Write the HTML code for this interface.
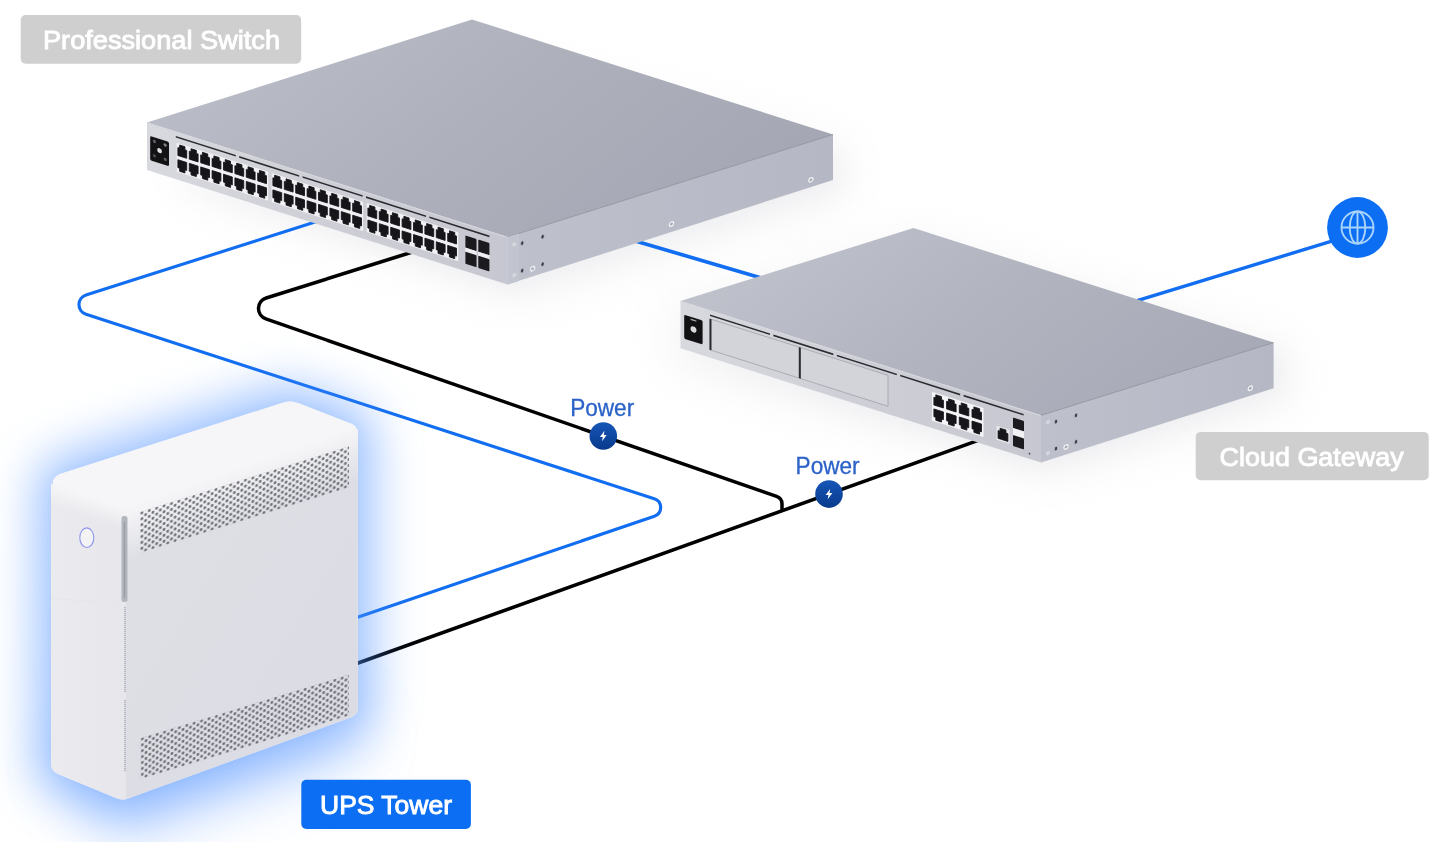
<!DOCTYPE html>
<html lang="en"><head><meta charset="utf-8"><title>UPS Tower topology</title>
<style>
html,body{margin:0;padding:0;background:#fff;}
body{width:1443px;height:842px;overflow:hidden;position:relative;font-family:"Liberation Sans",sans-serif;}
svg{position:absolute;left:0;top:0;display:block}
text{font-family:"Liberation Sans",sans-serif;}
</style></head><body>
<svg width="1443" height="842" viewBox="0 0 1443 842">
<defs>
<filter id="b6" x="-20%" y="-20%" width="140%" height="140%"><feGaussianBlur stdDeviation="6"/></filter>
<filter id="b12" x="-30%" y="-30%" width="160%" height="160%"><feGaussianBlur stdDeviation="12"/></filter>
<filter id="b20" x="-60%" y="-60%" width="220%" height="220%"><feGaussianBlur stdDeviation="24"/></filter>
<filter id="b30" x="-60%" y="-100%" width="220%" height="300%"><feGaussianBlur stdDeviation="30"/></filter>
<filter id="b1" x="-10%" y="-10%" width="120%" height="120%"><feGaussianBlur stdDeviation="0.6"/></filter>
<linearGradient id="swTop" x1="0" y1="0.2" x2="1" y2="0.6"><stop offset="0" stop-color="#bcbfc9"/><stop offset="0.5" stop-color="#aeb1bc"/><stop offset="1" stop-color="#a4a7b3"/></linearGradient>
<linearGradient id="gwTop" x1="0" y1="0.2" x2="1" y2="0.6"><stop offset="0" stop-color="#c1c3cd"/><stop offset="0.5" stop-color="#b2b5c0"/><stop offset="1" stop-color="#a7aab6"/></linearGradient>
<linearGradient id="front" x1="0" y1="0" x2="1" y2="0"><stop offset="0" stop-color="#d8d9de"/><stop offset="0.5" stop-color="#cecfd6"/><stop offset="1" stop-color="#c6c7d0"/></linearGradient>
<linearGradient id="side" x1="0" y1="0" x2="1" y2="0"><stop offset="0" stop-color="#bec1cc"/><stop offset="1" stop-color="#b5b8c4"/></linearGradient>
<linearGradient id="badge" x1="0" y1="0" x2="0" y2="1"><stop offset="0" stop-color="#1756b8"/><stop offset="1" stop-color="#083a8c"/></linearGradient>
<linearGradient id="upsSide" x1="0" y1="0" x2="1" y2="1"><stop offset="0" stop-color="#dfe0e6"/><stop offset="1" stop-color="#dbdce3"/></linearGradient>
<linearGradient id="upsFront" x1="0" y1="0" x2="1" y2="0"><stop offset="0" stop-color="#ebebef"/><stop offset="1" stop-color="#e6e6eb"/></linearGradient>
<pattern id="dots" width="7.4" height="5.9" patternUnits="userSpaceOnUse"><circle cx="1.85" cy="1.5" r="1.45" fill="#707178"/><circle cx="5.55" cy="4.45" r="1.45" fill="#707178"/></pattern>
<linearGradient id="upsRound" x1="0" y1="0" x2="0" y2="1"><stop offset="0" stop-color="#f5f5f7" stop-opacity="1"/><stop offset="1" stop-color="#f5f5f7" stop-opacity="0"/></linearGradient>
</defs>
<rect width="1443" height="842" fill="#ffffff"/>

<g opacity="0.42">
<polygon points="185,150 480,60 846,146 848,196 520,300 185,190" fill="#d4d5da" filter="url(#b20)" opacity="0.6"/>
<polygon points="672,310 914,240 1290,350 1292,400 1046,476 672,362" fill="#d4d5da" filter="url(#b20)" opacity="0.7"/>
<polygon points="160,175 510,290 840,188 840,150 520,250" fill="#c4c5cc" filter="url(#b12)" opacity="0.45"/>
<polygon points="690,352 1040,468 1282,392 1282,350 1050,424" fill="#c4c5cc" filter="url(#b12)" opacity="0.45"/>
</g>
<path d="M620 236.5 L775 282" stroke="#126ef0" stroke-width="3.8" fill="none"/>
<path d="M1120 305.8 L1340 238.7" stroke="#126ef0" stroke-width="3.3" fill="none"/>
<path d="M335.0 215.6 L86.0 294.9 A10.2 10.2 0 0 0 86.0 314.3 L654.2 498.7 A9.2 9.2 0 0 1 654.4 516.2 L340.0 623.2" stroke="#126ef0" stroke-width="3.2" fill="none"/>
<path d="M990.0 436.2 L340.0 669.5" stroke="#000" stroke-width="3.5" fill="none"/>
<path d="M430.0 246.5 L266.2 298.0 A11.0 11.0 0 0 0 265.9 318.9 L776.6 496.4 A8.0 8.0 0 0 1 782.0 504.0 L782.0 511.5" stroke="#000" stroke-width="3.5" fill="none"/>
<path d="M53 486 Q51 478 60 474 L282 403 Q290 400 298 403 L352 424 Q357.8 427 357.8 436 L357.8 708 Q357.8 714 352 717 L128 798.5 Q122 800.5 116 798 L58 774 Q51 771 51 763 Z" fill="#4d90ff" stroke="#4d90ff" stroke-width="30" stroke-linejoin="round" opacity="0.56" filter="url(#b20)"/>
<path d="M53 486 Q51 478 60 474 L282 403 Q290 400 298 403 L352 424 Q357.8 427 357.8 436 L357.8 708 Q357.8 714 352 717 L128 798.5 Q122 800.5 116 798 L58 774 Q51 771 51 763 Z" fill="#8fbaff" opacity="0.12" filter="url(#b6)"/>
<path d="M70 740 L122 800 L352 717 L340 690 Z" transform="translate(0,26)" fill="#4d90ff" stroke="#4d90ff" stroke-width="30" stroke-linejoin="round" opacity="0.28" filter="url(#b30)"/>
<path d="M53 486 Q51 478 60 474 L282 403 Q290 400 298 403 L352 424 Q357.8 427 357.8 436 L357.8 708 Q357.8 714 352 717 L128 798.5 Q122 800.5 116 798 L58 774 Q51 771 51 763 Z" fill="#f1f1f4"/>
<path d="M126 512 L352 432 Q357.8 430 357.8 438 L357.8 708 Q357.8 714 352 717 L128 798.5 L126 798.5 Z" fill="url(#upsSide)"/>
<path d="M51 486 L126 512 L126 799 Q122 800.5 116 798 L58 774 Q51 771 51 763 Z" fill="url(#upsFront)"/>
<path d="M53 484 Q52 478 60 474 L282 403 Q290 400 298 403 L352 424 Q358 427 356 431 L126 512 Z" fill="#f6f6f8"/>
<g transform="matrix(1,-0.352,0,1,126,511)"><rect x="0" y="0" width="232" height="50" fill="url(#upsRound)"/></g>
<g transform="matrix(1,0.347,0,1,51,484)"><rect x="0" y="0" width="75" height="22" fill="url(#upsRound)"/></g>
<path d="M126 512 L356 431" stroke="#f4f4f6" stroke-width="5" fill="none" filter="url(#b1)"/>
<g transform="matrix(1,-0.315,0,1,140,512)"><rect x="0" y="0" width="209" height="41" fill="url(#dots)"/></g>
<g transform="matrix(1,-0.304,0,1,140.5,738)"><rect x="0" y="0" width="208.5" height="41" fill="url(#dots)"/></g>
<rect x="121.5" y="516" width="6" height="86" rx="2.5" fill="#b4b6bd"/>
<rect x="123.7" y="522" width="1.6" height="76" fill="#9c9ea6"/>
<path d="M125 607 V692 M125 700 V772" stroke="#9c9ea6" stroke-width="1.2" stroke-dasharray="1.2 0.8" fill="none"/>
<path d="M51 598 L121 604" stroke="#e6e6ea" stroke-width="1.2" fill="none"/>
<ellipse cx="86.8" cy="537.7" rx="7" ry="9.8" fill="#f3f3f6" stroke="#8e94ea" stroke-width="1.1"/>
<polygon points="147,122.5 507.5,237 833,134.5 472,19.5" fill="url(#swTop)"/>
<polygon points="507.5,237 833,134.5 833,180 507.5,284.5" fill="url(#side)"/>
<polygon points="147,122.5 507.5,237 507.5,284.5 147,170" fill="url(#front)"/>
<path d="M147 123 L507.5 237.5" stroke="#d6d7dd" stroke-width="1" fill="none"/>
<path d="M507.5 237 L833 134.5" stroke="#8f929d" stroke-width="0.9" fill="none"/>
<g transform="matrix(1,0.3176,0,1,147,122.5)">
<rect x="3.2" y="12.4" width="18.8" height="24.4" rx="1.5" fill="#121215"/>
<circle cx="12.6" cy="24.2" r="2.4" fill="#dcdde1"/>
<circle cx="7.4" cy="16.6" r="1.6" fill="#5d5e63"/><circle cx="18.2" cy="16.8" r="1.6" fill="#7f8085"/><circle cx="7.4" cy="31" r="1.6" fill="#4b4c51"/><circle cx="18.2" cy="31.1" r="1.6" fill="#5d5e63"/>
<rect x="28.8" y="4.3" width="60" height="1.6" fill="#2a2b30"/>
<rect x="92.2" y="4.3" width="60" height="1.6" fill="#2a2b30"/>
<rect x="155.6" y="4.3" width="60" height="1.6" fill="#2a2b30"/>
<rect x="219.0" y="4.3" width="60" height="1.6" fill="#2a2b30"/>
<rect x="282.4" y="4.3" width="60" height="1.6" fill="#2a2b30"/>
<rect x="29.7" y="10.8" width="91.5" height="29" fill="#f1f1f4"/>
<path d="M32.66 12.20 h5.28 v3.08 h1.76 v7.92 h-8.80 v-7.92 h1.76 z" fill="#15151a" stroke="#15151a" stroke-width="0.8" stroke-linejoin="round"/>
<path d="M30.90 27.40 h8.80 v7.92 h-1.76 v3.08 h-5.28 v-3.08 h-1.76 z" fill="#15151a" stroke="#15151a" stroke-width="0.8" stroke-linejoin="round"/>
<path d="M44.06 12.20 h5.28 v3.08 h1.76 v7.92 h-8.80 v-7.92 h1.76 z" fill="#15151a" stroke="#15151a" stroke-width="0.8" stroke-linejoin="round"/>
<path d="M42.30 27.40 h8.80 v7.92 h-1.76 v3.08 h-5.28 v-3.08 h-1.76 z" fill="#15151a" stroke="#15151a" stroke-width="0.8" stroke-linejoin="round"/>
<path d="M55.46 12.20 h5.28 v3.08 h1.76 v7.92 h-8.80 v-7.92 h1.76 z" fill="#15151a" stroke="#15151a" stroke-width="0.8" stroke-linejoin="round"/>
<path d="M53.70 27.40 h8.80 v7.92 h-1.76 v3.08 h-5.28 v-3.08 h-1.76 z" fill="#15151a" stroke="#15151a" stroke-width="0.8" stroke-linejoin="round"/>
<path d="M66.86 12.20 h5.28 v3.08 h1.76 v7.92 h-8.80 v-7.92 h1.76 z" fill="#15151a" stroke="#15151a" stroke-width="0.8" stroke-linejoin="round"/>
<path d="M65.10 27.40 h8.80 v7.92 h-1.76 v3.08 h-5.28 v-3.08 h-1.76 z" fill="#15151a" stroke="#15151a" stroke-width="0.8" stroke-linejoin="round"/>
<path d="M78.26 12.20 h5.28 v3.08 h1.76 v7.92 h-8.80 v-7.92 h1.76 z" fill="#15151a" stroke="#15151a" stroke-width="0.8" stroke-linejoin="round"/>
<path d="M76.50 27.40 h8.80 v7.92 h-1.76 v3.08 h-5.28 v-3.08 h-1.76 z" fill="#15151a" stroke="#15151a" stroke-width="0.8" stroke-linejoin="round"/>
<path d="M89.66 12.20 h5.28 v3.08 h1.76 v7.92 h-8.80 v-7.92 h1.76 z" fill="#15151a" stroke="#15151a" stroke-width="0.8" stroke-linejoin="round"/>
<path d="M87.90 27.40 h8.80 v7.92 h-1.76 v3.08 h-5.28 v-3.08 h-1.76 z" fill="#15151a" stroke="#15151a" stroke-width="0.8" stroke-linejoin="round"/>
<path d="M101.06 12.20 h5.28 v3.08 h1.76 v7.92 h-8.80 v-7.92 h1.76 z" fill="#15151a" stroke="#15151a" stroke-width="0.8" stroke-linejoin="round"/>
<path d="M99.30 27.40 h8.80 v7.92 h-1.76 v3.08 h-5.28 v-3.08 h-1.76 z" fill="#15151a" stroke="#15151a" stroke-width="0.8" stroke-linejoin="round"/>
<path d="M112.46 12.20 h5.28 v3.08 h1.76 v7.92 h-8.80 v-7.92 h1.76 z" fill="#15151a" stroke="#15151a" stroke-width="0.8" stroke-linejoin="round"/>
<path d="M110.70 27.40 h8.80 v7.92 h-1.76 v3.08 h-5.28 v-3.08 h-1.76 z" fill="#15151a" stroke="#15151a" stroke-width="0.8" stroke-linejoin="round"/>
<rect x="124.7" y="10.8" width="91.5" height="29" fill="#f1f1f4"/>
<path d="M127.66 12.20 h5.28 v3.08 h1.76 v7.92 h-8.80 v-7.92 h1.76 z" fill="#15151a" stroke="#15151a" stroke-width="0.8" stroke-linejoin="round"/>
<path d="M125.90 27.40 h8.80 v7.92 h-1.76 v3.08 h-5.28 v-3.08 h-1.76 z" fill="#15151a" stroke="#15151a" stroke-width="0.8" stroke-linejoin="round"/>
<path d="M139.06 12.20 h5.28 v3.08 h1.76 v7.92 h-8.80 v-7.92 h1.76 z" fill="#15151a" stroke="#15151a" stroke-width="0.8" stroke-linejoin="round"/>
<path d="M137.30 27.40 h8.80 v7.92 h-1.76 v3.08 h-5.28 v-3.08 h-1.76 z" fill="#15151a" stroke="#15151a" stroke-width="0.8" stroke-linejoin="round"/>
<path d="M150.46 12.20 h5.28 v3.08 h1.76 v7.92 h-8.80 v-7.92 h1.76 z" fill="#15151a" stroke="#15151a" stroke-width="0.8" stroke-linejoin="round"/>
<path d="M148.70 27.40 h8.80 v7.92 h-1.76 v3.08 h-5.28 v-3.08 h-1.76 z" fill="#15151a" stroke="#15151a" stroke-width="0.8" stroke-linejoin="round"/>
<path d="M161.86 12.20 h5.28 v3.08 h1.76 v7.92 h-8.80 v-7.92 h1.76 z" fill="#15151a" stroke="#15151a" stroke-width="0.8" stroke-linejoin="round"/>
<path d="M160.10 27.40 h8.80 v7.92 h-1.76 v3.08 h-5.28 v-3.08 h-1.76 z" fill="#15151a" stroke="#15151a" stroke-width="0.8" stroke-linejoin="round"/>
<path d="M173.26 12.20 h5.28 v3.08 h1.76 v7.92 h-8.80 v-7.92 h1.76 z" fill="#15151a" stroke="#15151a" stroke-width="0.8" stroke-linejoin="round"/>
<path d="M171.50 27.40 h8.80 v7.92 h-1.76 v3.08 h-5.28 v-3.08 h-1.76 z" fill="#15151a" stroke="#15151a" stroke-width="0.8" stroke-linejoin="round"/>
<path d="M184.66 12.20 h5.28 v3.08 h1.76 v7.92 h-8.80 v-7.92 h1.76 z" fill="#15151a" stroke="#15151a" stroke-width="0.8" stroke-linejoin="round"/>
<path d="M182.90 27.40 h8.80 v7.92 h-1.76 v3.08 h-5.28 v-3.08 h-1.76 z" fill="#15151a" stroke="#15151a" stroke-width="0.8" stroke-linejoin="round"/>
<path d="M196.06 12.20 h5.28 v3.08 h1.76 v7.92 h-8.80 v-7.92 h1.76 z" fill="#15151a" stroke="#15151a" stroke-width="0.8" stroke-linejoin="round"/>
<path d="M194.30 27.40 h8.80 v7.92 h-1.76 v3.08 h-5.28 v-3.08 h-1.76 z" fill="#15151a" stroke="#15151a" stroke-width="0.8" stroke-linejoin="round"/>
<path d="M207.46 12.20 h5.28 v3.08 h1.76 v7.92 h-8.80 v-7.92 h1.76 z" fill="#15151a" stroke="#15151a" stroke-width="0.8" stroke-linejoin="round"/>
<path d="M205.70 27.40 h8.80 v7.92 h-1.76 v3.08 h-5.28 v-3.08 h-1.76 z" fill="#15151a" stroke="#15151a" stroke-width="0.8" stroke-linejoin="round"/>
<rect x="219.7" y="10.8" width="91.5" height="29" fill="#f1f1f4"/>
<path d="M222.66 12.20 h5.28 v3.08 h1.76 v7.92 h-8.80 v-7.92 h1.76 z" fill="#15151a" stroke="#15151a" stroke-width="0.8" stroke-linejoin="round"/>
<path d="M220.90 27.40 h8.80 v7.92 h-1.76 v3.08 h-5.28 v-3.08 h-1.76 z" fill="#15151a" stroke="#15151a" stroke-width="0.8" stroke-linejoin="round"/>
<path d="M234.06 12.20 h5.28 v3.08 h1.76 v7.92 h-8.80 v-7.92 h1.76 z" fill="#15151a" stroke="#15151a" stroke-width="0.8" stroke-linejoin="round"/>
<path d="M232.30 27.40 h8.80 v7.92 h-1.76 v3.08 h-5.28 v-3.08 h-1.76 z" fill="#15151a" stroke="#15151a" stroke-width="0.8" stroke-linejoin="round"/>
<path d="M245.46 12.20 h5.28 v3.08 h1.76 v7.92 h-8.80 v-7.92 h1.76 z" fill="#15151a" stroke="#15151a" stroke-width="0.8" stroke-linejoin="round"/>
<path d="M243.70 27.40 h8.80 v7.92 h-1.76 v3.08 h-5.28 v-3.08 h-1.76 z" fill="#15151a" stroke="#15151a" stroke-width="0.8" stroke-linejoin="round"/>
<path d="M256.86 12.20 h5.28 v3.08 h1.76 v7.92 h-8.80 v-7.92 h1.76 z" fill="#15151a" stroke="#15151a" stroke-width="0.8" stroke-linejoin="round"/>
<path d="M255.10 27.40 h8.80 v7.92 h-1.76 v3.08 h-5.28 v-3.08 h-1.76 z" fill="#15151a" stroke="#15151a" stroke-width="0.8" stroke-linejoin="round"/>
<path d="M268.26 12.20 h5.28 v3.08 h1.76 v7.92 h-8.80 v-7.92 h1.76 z" fill="#15151a" stroke="#15151a" stroke-width="0.8" stroke-linejoin="round"/>
<path d="M266.50 27.40 h8.80 v7.92 h-1.76 v3.08 h-5.28 v-3.08 h-1.76 z" fill="#15151a" stroke="#15151a" stroke-width="0.8" stroke-linejoin="round"/>
<path d="M279.66 12.20 h5.28 v3.08 h1.76 v7.92 h-8.80 v-7.92 h1.76 z" fill="#15151a" stroke="#15151a" stroke-width="0.8" stroke-linejoin="round"/>
<path d="M277.90 27.40 h8.80 v7.92 h-1.76 v3.08 h-5.28 v-3.08 h-1.76 z" fill="#15151a" stroke="#15151a" stroke-width="0.8" stroke-linejoin="round"/>
<path d="M291.06 12.20 h5.28 v3.08 h1.76 v7.92 h-8.80 v-7.92 h1.76 z" fill="#15151a" stroke="#15151a" stroke-width="0.8" stroke-linejoin="round"/>
<path d="M289.30 27.40 h8.80 v7.92 h-1.76 v3.08 h-5.28 v-3.08 h-1.76 z" fill="#15151a" stroke="#15151a" stroke-width="0.8" stroke-linejoin="round"/>
<path d="M302.46 12.20 h5.28 v3.08 h1.76 v7.92 h-8.80 v-7.92 h1.76 z" fill="#15151a" stroke="#15151a" stroke-width="0.8" stroke-linejoin="round"/>
<path d="M300.70 27.40 h8.80 v7.92 h-1.76 v3.08 h-5.28 v-3.08 h-1.76 z" fill="#15151a" stroke="#15151a" stroke-width="0.8" stroke-linejoin="round"/>
<rect x="318.4" y="11.8" width="11.1" height="12.2" rx="0.8" fill="#1b1b1f"/>
<rect x="318.4" y="24" width="11.1" height="4" fill="#eeeef2"/>
<rect x="318.4" y="28" width="11.1" height="12.2" rx="0.8" fill="#1b1b1f"/>
<rect x="331.3" y="11.8" width="11.1" height="12.2" rx="0.8" fill="#1b1b1f"/>
<rect x="331.3" y="24" width="11.1" height="4" fill="#eeeef2"/>
<rect x="331.3" y="28" width="11.1" height="12.2" rx="0.8" fill="#1b1b1f"/>
</g>
<g transform="matrix(1,-0.3149,0,1,507.5,237)">
<rect x="0" y="0" width="11.5" height="47.5" fill="#c2c5cf"/>
<circle cx="6.8" cy="9.4" r="1.9" fill="#d9dae0" stroke="#cfd0d7" stroke-width="0.8"/>
<ellipse cx="14.7" cy="10.8" rx="1.7" ry="2.3" fill="#3f4149" stroke="#c6c8d1" stroke-width="0.7"/>
<ellipse cx="35.1" cy="10.75" rx="1.7" ry="2.3" fill="#3f4149" stroke="#c6c8d1" stroke-width="0.7"/>
<circle cx="6.8" cy="40.3" r="1.9" fill="#d9dae0" stroke="#cfd0d7" stroke-width="0.8"/>
<ellipse cx="14.7" cy="38.3" rx="1.7" ry="2.3" fill="#3f4149" stroke="#c6c8d1" stroke-width="0.7"/>
<ellipse cx="35.1" cy="38.25" rx="1.7" ry="2.3" fill="#3f4149" stroke="#c6c8d1" stroke-width="0.7"/>
<circle cx="25.1" cy="39.6" r="2.1" fill="#a9acb6" stroke="#f2f2f5" stroke-width="1.3"/>
<circle cx="164" cy="38.7" r="2.1" fill="#a9acb6" stroke="#f2f2f5" stroke-width="1.3"/>
<circle cx="303.4" cy="38.4" r="2.1" fill="#a9acb6" stroke="#f2f2f5" stroke-width="1.3"/>
</g>
<polygon points="680.5,301 1041,415.3 1273.6,342.6 913.5,228" fill="url(#gwTop)"/>
<polygon points="1041,415.3 1273.6,342.6 1273.6,388.2 1041,462.6" fill="url(#side)"/>
<polygon points="680.5,301 1041,415.3 1041,462.6 680.5,348.3" fill="url(#front)"/>
<path d="M680.5 301.5 L1041 415.8" stroke="#d6d7dd" stroke-width="1" fill="none"/>
<path d="M1041 415.3 L1273.6 342.6" stroke="#8f929d" stroke-width="0.9" fill="none"/>
<g transform="matrix(1,0.3171,0,1,680.5,301)">
<rect x="3.7" y="12.5" width="18.4" height="24" rx="1.5" fill="#121215"/>
<circle cx="13" cy="24.3" r="3" fill="#d9dade"/>
<rect x="10.1" y="14.4" width="5.8" height="1.4" fill="#a4a5ab"/>
<rect x="29.5" y="4.1" width="60" height="1.6" fill="#2a2b30"/>
<rect x="92.9" y="4.1" width="60" height="1.6" fill="#2a2b30"/>
<rect x="156.3" y="4.1" width="60" height="1.6" fill="#2a2b30"/>
<rect x="219.7" y="4.1" width="60" height="1.6" fill="#2a2b30"/>
<rect x="283.1" y="4.1" width="60" height="1.6" fill="#2a2b30"/>
<rect x="29.5" y="8.5" width="89.5" height="31" fill="#d3d4da" stroke="#a3a5ae" stroke-width="0.8"/>
<rect x="29" y="8.5" width="2" height="31" fill="#2a2b30"/>
<rect x="119.5" y="8.5" width="88" height="31" fill="#d3d4da" stroke="#a3a5ae" stroke-width="0.8"/>
<rect x="118.3" y="8.5" width="2" height="31" fill="#2a2b30"/>
<rect x="251.5" y="11" width="51.5" height="29" fill="#f4f4f6"/>
<path d="M255.30 12.90 h5.70 v3.00 h1.90 v7.70 h-9.50 v-7.70 h1.90 z" fill="#15151a" stroke="#15151a" stroke-width="0.8" stroke-linejoin="round"/>
<path d="M253.40 27.60 h9.50 v7.70 h-1.90 v3.00 h-5.70 v-3.00 h-1.90 z" fill="#15151a" stroke="#15151a" stroke-width="0.8" stroke-linejoin="round"/>
<path d="M268.00 12.90 h5.70 v3.00 h1.90 v7.70 h-9.50 v-7.70 h1.90 z" fill="#15151a" stroke="#15151a" stroke-width="0.8" stroke-linejoin="round"/>
<path d="M266.10 27.60 h9.50 v7.70 h-1.90 v3.00 h-5.70 v-3.00 h-1.90 z" fill="#15151a" stroke="#15151a" stroke-width="0.8" stroke-linejoin="round"/>
<path d="M280.70 12.90 h5.70 v3.00 h1.90 v7.70 h-9.50 v-7.70 h1.90 z" fill="#15151a" stroke="#15151a" stroke-width="0.8" stroke-linejoin="round"/>
<path d="M278.80 27.60 h9.50 v7.70 h-1.90 v3.00 h-5.70 v-3.00 h-1.90 z" fill="#15151a" stroke="#15151a" stroke-width="0.8" stroke-linejoin="round"/>
<path d="M293.40 12.90 h5.70 v3.00 h1.90 v7.70 h-9.50 v-7.70 h1.90 z" fill="#15151a" stroke="#15151a" stroke-width="0.8" stroke-linejoin="round"/>
<path d="M291.50 27.60 h9.50 v7.70 h-1.90 v3.00 h-5.70 v-3.00 h-1.90 z" fill="#15151a" stroke="#15151a" stroke-width="0.8" stroke-linejoin="round"/>
<rect x="316" y="24.5" width="13" height="14" fill="#e9e9ed"/>
<path d="M319.56 25.90 h5.88 v3.00 h1.96 v7.70 h-9.80 v-7.70 h1.96 z" fill="#15151a" stroke="#15151a" stroke-width="0.8" stroke-linejoin="round"/>
<rect x="332.5" y="11" width="11" height="10.5" rx="0.8" fill="#1b1b1f"/>
<rect x="332.5" y="21.5" width="11" height="7" fill="#f1f1f4"/>
<rect x="332.5" y="28.5" width="11" height="11" rx="0.8" fill="#1b1b1f"/>
<circle cx="349" cy="42" r="0.8" fill="#33343a"/>
</g>
<g transform="matrix(1,-0.3126,0,1,1041,415.3)">
<circle cx="7" cy="9" r="1.9" fill="#d9dae0" stroke="#cfd0d7" stroke-width="0.8"/>
<ellipse cx="15" cy="11" rx="1.7" ry="2.3" fill="#3f4149" stroke="#c6c8d1" stroke-width="0.7"/>
<ellipse cx="35" cy="11" rx="1.7" ry="2.3" fill="#3f4149" stroke="#c6c8d1" stroke-width="0.7"/>
<circle cx="7" cy="40" r="1.9" fill="#d9dae0" stroke="#cfd0d7" stroke-width="0.8"/>
<ellipse cx="15" cy="38" rx="1.7" ry="2.3" fill="#3f4149" stroke="#c6c8d1" stroke-width="0.7"/>
<ellipse cx="35" cy="37.5" rx="1.7" ry="2.3" fill="#3f4149" stroke="#c6c8d1" stroke-width="0.7"/>
<circle cx="25" cy="39.5" r="2.1" fill="#a9acb6" stroke="#f2f2f5" stroke-width="1.3"/>
<circle cx="209.3" cy="38.4" r="2.1" fill="#a9acb6" stroke="#f2f2f5" stroke-width="1.3"/>
</g>
<g transform="translate(603.3,436)"><circle r="13.8" fill="url(#badge)"/><path d="M1.2 -5.2 L-3.4 1 L-0.5 1 L-1.3 5.2 L3.4 -1 L0.5 -1 Z" fill="#fff"/></g>
<g transform="translate(829,494.1)"><circle r="13.8" fill="url(#badge)"/><path d="M1.2 -5.2 L-3.4 1 L-0.5 1 L-1.3 5.2 L3.4 -1 L0.5 -1 Z" fill="#fff"/></g>
<text x="570.2" y="415.9" font-size="24" fill="#2a62c8" stroke="#2a62c8" stroke-width="0.3" textLength="64" lengthAdjust="spacingAndGlyphs">Power</text>
<text x="795.6" y="473.8" font-size="24" fill="#2a62c8" stroke="#2a62c8" stroke-width="0.3" textLength="64" lengthAdjust="spacingAndGlyphs">Power</text>
<g transform="translate(1357.5,227.5)"><circle r="30.4" fill="#0b6ef3"/><g fill="none" stroke="#a9d3fb" stroke-width="1.9"><circle r="16"/><ellipse rx="7.8" ry="16"/><path d="M0 -16 V16 M-16 0 H16"/></g></g>
<rect x="20.7" y="15" width="280.5" height="48.7" rx="5" fill="#cfcfcf"/>
<text x="43" y="49" font-size="26.3" fill="#fff" stroke="#fff" stroke-width="0.9" textLength="237" lengthAdjust="spacingAndGlyphs">Professional Switch</text>
<rect x="1195.7" y="431.9" width="233" height="48.3" rx="5" fill="#cfcfcf"/>
<text x="1219.6" y="465.7" font-size="26.3" fill="#fff" stroke="#fff" stroke-width="0.9" textLength="184" lengthAdjust="spacingAndGlyphs">Cloud Gateway</text>
<rect x="301.3" y="779.8" width="169.6" height="49.1" rx="5" fill="#0b6ef3"/>
<text x="320" y="814.4" font-size="26.3" fill="#fff" stroke="#fff" stroke-width="0.9" textLength="132" lengthAdjust="spacingAndGlyphs">UPS Tower</text>
</svg>
</body></html>
